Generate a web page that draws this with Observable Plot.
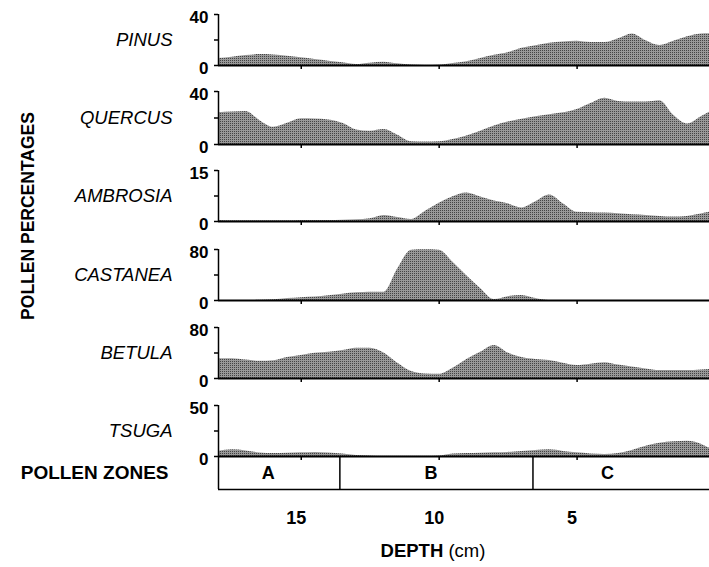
<!DOCTYPE html>
<html><head><meta charset="utf-8">
<script src="https://cdn.jsdelivr.net/npm/d3@7"></script>
<script src="https://cdn.jsdelivr.net/npm/@observablehq/plot@0.6"></script>
<style>
body{margin:0;background:#fff;}
#chart{position:relative;width:709px;height:567px;overflow:hidden;font-family:"Liberation Sans",Arial,Helvetica,sans-serif;color:#000;}
#chart > div.panel{position:absolute;left:0;}
#chart svg{background:transparent !important;}
.ylab{position:absolute;z-index:10;left:28px;top:216px;transform:translate(-50%,-50%) rotate(-90deg);font-weight:bold;font-size:17.5px;white-space:nowrap;}
.xlab{position:absolute;z-index:10;left:433px;top:551px;transform:translate(-50%,-50%);font-size:18.5px;white-space:nowrap;}
</style></head>
<body>
<svg width="0" height="0" style="position:absolute">
<defs><pattern id="stipple" width="2" height="2" patternUnits="userSpaceOnUse"><rect width="2" height="2" fill="#999999"/><rect width="1" height="1" fill="#444444"/></pattern></defs></svg>
<div id="chart">
  <div class="ylab">POLLEN PERCENTAGES</div>
  <div class="xlab"><b>DEPTH</b> (cm)</div>
</div>
<script>
// depth (cm) of samples
const depth = [18,17.5,17,16.5,16,15.5,15,14.5,14,13.5,13,12.5,12,11.5,11,10.5,10,9.5,9,8.5,8,7.5,7,6.5,6,5.5,5,4.5,4,3.5,3,2.5,2,1.5,1,0.5,0.2];
const pinus    = [5.5,6.5,7.8,8.6,8.3,7.3,6,4.7,3.4,2.1,0.8,1.8,2.6,1.3,0.3,0,0.2,1.5,3,5.5,8,10,13.5,15.5,17.5,18.5,19,18,18,21,24.8,19.5,15.7,19,22.5,24.8,25];
const quercus  = [24,24.5,25,18,13,16,19.4,19.2,18.5,16,11,10,11.3,7,2,1.8,2,3.8,6.5,10,14,17,19,21,22.5,24,26.5,31,35,32.5,32,32,33,22,15.5,21,24.4];
const ambrosia = [0.3,0.2,0.2,0.2,0.2,0.2,0.3,0.3,0.3,0.4,0.5,0.8,1.8,1.2,0.6,3,5.4,7.3,8.4,7.2,6,5.2,4,5.8,7.8,5.2,2.7,2.6,2.5,2.3,2,1.8,1.5,1.3,1.5,2.2,2.7];
const castanea = [0,0,0,0.3,1,3,4.5,5.5,7.5,10,12,13,13,50,79,79.5,79,60,39,19,1.5,6,8,3,0,0,0,0,0,0,0,0,0,0,0,0,0];
const betula   = [31,31,29,27,28,33,36,39.5,41,44,47.6,47.6,40,24,11,7,6.5,16,30,41,51.8,40,33,30,28.2,24,20.4,22.5,24.6,21,18,15,12.5,12.5,12.5,13.5,14];
const tsuga    = [5,6.5,5.5,3.5,3,3.3,3.6,4,3.5,2.5,1,0.5,0.3,0.3,0.3,0.3,0.5,2.5,3,3.3,3.6,4,5,6,6.5,5,3.6,2.5,2,3,6,10,13,14.5,15,12,8];

const taxa = ["PINUS","QUERCUS","AMBROSIA","CASTANEA","BETULA","TSUGA"];
const series = [pinus, quercus, ambrosia, castanea, betula, tsuga];
const yMax = [40,40,15,80,80,50];
const depthTicks = [15,10,5];
const zoneNames = ["A","B","C"];
const zoneLabelDepth = [16.2,10.3,3.9];
const zoneBounds = [13.6,6.6];

// layout (pixels)
const baselines = [65,144,221,300,378,456];
const panelH = [51,53,51,51,51,51];
const mt = 14, mb = 8;
const font = '"Liberation Sans",Arial,Helvetica,sans-serif';
const chart = document.getElementById("chart");
const xScale = {domain:[18,0.2]};

series.forEach((vals, i) => {
  const data = depth.map((d, j) => ({depth: d, pct: vals[j]}));
  const m = yMax[i];
  const p = Plot.plot({
    width: 709, height: mt + panelH[i] + mb,
    marginLeft: 218, marginRight: 0, marginTop: mt, marginBottom: mb,
    x: {...xScale, axis: null},
    y: {domain: [0, m], axis: null},
    style: {fontFamily: font, background: "transparent", overflow: "visible", color: "#000"},
    marks: [
      Plot.areaY(data, {x: "depth", y: "pct", fill: "url(#stipple)", curve: "monotone-x"}),
      Plot.ruleY([0], {stroke: "black", strokeWidth: 2}),
      Plot.ruleX([18], {stroke: "black", strokeWidth: 1.5}),
      Plot.axisY({ticks: [0, m/2, m], tickSize: 4, strokeWidth: 1.5, tickFormat: () => "", label: null}),
      Plot.axisY({ticks: [0, m], tickSize: 0, tickPadding: 10, dy: 3, fontSize: 17, fontWeight: "bold", fill: "black", label: null}),
      Plot.axisX({ticks: depthTicks, tickSize: 4, strokeWidth: 1.5, tickFormat: () => "", anchor: "bottom", label: null}),
      Plot.text([taxa[i]], {frameAnchor: "left", dx: -46, textAnchor: "end", fontStyle: "italic", fontSize: 18.5, fill: "black"})
    ]
  });
  const div = document.createElement("div");
  div.className = "panel";
  div.style.top = (baselines[i] - panelH[i] - mt) + "px";
  div.appendChild(p);
  chart.appendChild(div);
});

// pollen zones + depth axis
const zoneH = 33;
const bottomTop = baselines[5];
const bp = Plot.plot({
  width: 709, height: 567 - bottomTop,
  marginLeft: 218, marginRight: 0, marginTop: 0, marginBottom: 567 - bottomTop - zoneH,
  x: {...xScale, axis: null},
  y: {domain: [0, 1], axis: null},
  style: {fontFamily: font, background: "transparent", overflow: "visible", color: "#000"},
  marks: [
    Plot.ruleY([0], {stroke: "black", strokeWidth: 1.5}),
    Plot.ruleX([18, ...zoneBounds], {stroke: "black", strokeWidth: 1.5}),
    Plot.text(zoneNames, {x: (d, j) => zoneLabelDepth[j], y: 0.5, text: d => d, fontWeight: "bold", fontSize: 18, fill: "black"}),
    Plot.text(["POLLEN ZONES"], {frameAnchor: "left", dx: -50, textAnchor: "end", fontWeight: "bold", fontSize: 19, fill: "black"}),
    Plot.axisX({ticks: depthTicks, tickSize: 0, tickPadding: 22, dx: -5, fontSize: 18, fontWeight: "bold", anchor: "bottom", fill: "black", label: null})
  ]
});
const bdiv = document.createElement("div");
bdiv.className = "panel";
bdiv.style.top = bottomTop + "px";
bdiv.appendChild(bp);
chart.appendChild(bdiv);
</script>
</body></html>
